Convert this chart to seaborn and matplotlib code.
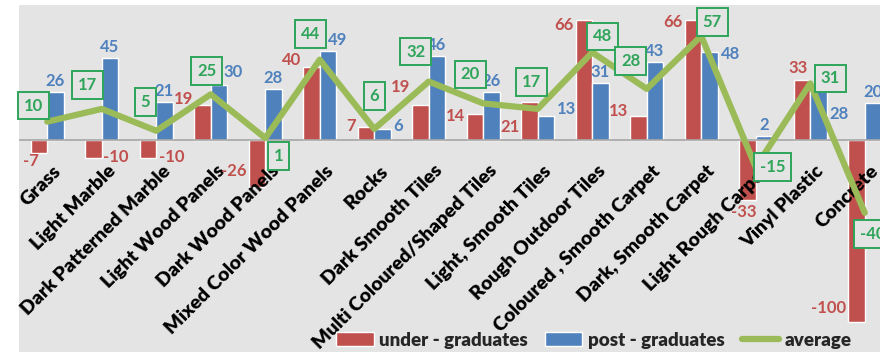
import numpy as np
import pandas as pd
import seaborn as sns
import matplotlib.pyplot as plt
from matplotlib.patches import Rectangle
from matplotlib.transforms import ScaledTranslation

# --- data ---
materials = ["Grass", "Light Marble", "Dark Patterned Marble", "Light Wood Panels",
             "Dark Wood Panels", "Mixed Color Wood Panels", "Rocks", "Dark Smooth Tiles",
             "Multi Coloured/Shaped Tiles", "Light, Smooth Tiles", "Rough Outdoor Tiles",
             "Coloured , Smooth Carpet", "Dark, Smooth Carpet", "Light Rough Carpet",
             "Vinyl Plastic", "Concrete"]
under_grad = [-7, -10, -10, 19, -26, 40, 7, 19, 14, 21, 66, 13, 66, -33, 33, -100]
post_grad = [26, 45, 21, 30, 28, 49, 6, 46, 26, 13, 31, 43, 48, 2, 28, 20]
average = [10, 17, 5, 25, 1, 44, 6, 32, 20, 17, 48, 28, 57, -15, 31, -40]
series_names = ["under - graduates", "post - graduates", "average"]

RED, BLUE, GREEN, TXT_GREEN = "#C0504D", "#4F81BD", "#9BBB59", "#2FA55A"
BG = "#E4E4E4"

sns.set_theme(style="white")
plt.rcParams["font.family"] = ["Lato", "DejaVu Sans"]
plt.rcParams["font.weight"] = "bold"

df = pd.DataFrame({
    "material": materials * 2,
    "value": under_grad + post_grad,
    "group": [series_names[0]] * len(materials) + [series_names[1]] * len(materials),
})

fig = plt.figure(figsize=(8.8, 3.52), dpi=100, facecolor="white")
fig.patches.append(Rectangle((19 / 880, 0), 1, 1 - 5 / 352, transform=fig.transFigure,
                             facecolor=BG, edgecolor="none", zorder=-5))
ax = fig.add_axes([20 / 880, 1 - 324 / 352, 860 / 880, 319 / 352])
ax.set_facecolor("none")

sns.barplot(data=df, x="material", y="value", hue="group", palette=[RED, BLUE],
            width=0.6, saturation=1, errorbar=None, legend=False, ax=ax, zorder=2)
sns.pointplot(x=materials, y=average, color=GREEN, markers="", linewidth=4.5,
              errorbar=None, ax=ax, zorder=3)
avg_line = ax.lines[-1]

n = len(materials)
ax.set_xlabel("")
ax.set_ylabel("")
ax.set_yticks([])
for s in ["top", "right", "left"]:
    ax.spines[s].set_visible(False)
ax.spines["bottom"].set_position(("data", 0))
ax.spines["bottom"].set_color("#A6A6A6")
ax.spines["bottom"].set_linewidth(1.2)
ax.set_xticks(np.arange(-0.5, n), minor=True)
ax.tick_params(axis="x", which="major", length=0, pad=16)
ax.tick_params(axis="x", which="minor", length=5, color="#A6A6A6", width=1.2, direction="out")
ax.set_xticks(range(n))
ax.set_xticklabels(materials, rotation=45, ha="right", va="center",
                   rotation_mode="anchor", fontsize=14, fontweight="heavy", color="black")
shift = ScaledTranslation(11 / 100, -6 / 100, fig.dpi_scale_trans)
for lab in ax.get_xticklabels():
    lab.set_transform(lab.get_transform() + shift)
ax.xaxis.set_zorder(2.5)
ax.set_xlim(-0.5, 15.28)
ax.set_ylim(-101, 74)

# label placement: (anchor, dx px, dy px)
red_pos = {0: ("B", -8, 0), 1: ("R", 1, 1), 2: ("R", 3, 1), 3: ("L", -1, 6),
           4: ("L", -2, 16), 5: ("L", -2, 7), 6: ("L", -2, 1), 7: ("L", -2, 18),
           8: ("L", -2, -2), 9: ("L", -2, -25), 10: ("L", -2, -5), 11: ("L", -2, 5),
           12: ("L", -2, -2), 13: ("B", -4, -4), 14: ("T", -4, 4), 15: ("L", -2, 14)}
blue_pos = {3: ("T", 14, 5), 5: ("T", 10, 3), 6: ("R", 3, 3), 9: ("R", 3, 7),
            12: ("R", 3, -2), 14: ("R", 3, -25)}
avg_pos = [(-14, 16), (-14, 24), (-11, 29), (-4, 23), (13, -18), (-9, 26), (0, 33),
           (-13, 30), (-13, 29), (-6, 27), (10, 16), (-16, 28), (11, 14), (17, 0),
           (20, 5), (8, -21)]


def bar_label(bar, value, place, color):
    anchor, dx, dy = place
    x0, w, h = bar.get_x(), bar.get_width(), bar.get_height()
    if anchor == "L":
        xy, ha, va = (x0, h), "right", "center"
    elif anchor == "R":
        xy, ha, va = (x0 + w, h), "left", "center"
    elif anchor == "T":
        xy, ha, va = (x0 + w / 2, h), "center", "bottom"
    else:
        xy, ha, va = (x0 + w / 2, h), "center", "top"
    ax.annotate(f"{value}", xy=xy, xytext=(dx, dy), textcoords="offset pixels",
                ha=ha, va=va, color=color, fontsize=12, fontweight="bold", zorder=5)


for i, bar in enumerate(ax.containers[0]):
    bar_label(bar, under_grad[i], red_pos[i], RED)
for i, bar in enumerate(ax.containers[1]):
    bar_label(bar, post_grad[i], blue_pos.get(i, ("T", 0, 3)), BLUE)

for i, v in enumerate(average):
    dx, dy = avg_pos[i]
    ax.annotate(f"{v}", xy=(i, v), xytext=(dx, dy), textcoords="offset pixels",
                ha="center", va="center", color=TXT_GREEN, fontsize=12, fontweight="bold",
                zorder=6,
                bbox=dict(boxstyle="square,pad=0.35", facecolor=BG, edgecolor=TXT_GREEN,
                          linewidth=1.4))

handles = [ax.containers[0], ax.containers[1], avg_line]
leg = fig.legend(handles, series_names, loc="center", bbox_to_anchor=(0.675, 0.034),
                 ncol=3, frameon=False, fontsize=13.5, handlelength=2.0, handleheight=0.7,
                 columnspacing=0.9, handletextpad=0.3, borderpad=0)
for t in leg.get_texts():
    t.set_fontweight("heavy")

fig.savefig("out.png", dpi=100, facecolor=fig.get_facecolor())
